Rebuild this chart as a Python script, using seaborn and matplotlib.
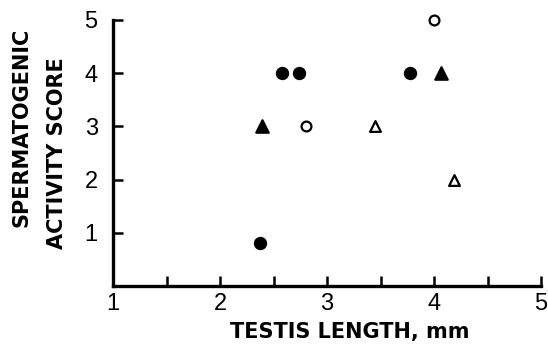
import matplotlib
matplotlib.use("Agg")
import matplotlib.pyplot as plt
import seaborn as sns
import pandas as pd
from matplotlib.ticker import FixedLocator

sns.set_theme(style="ticks")
plt.rcParams['font.family'] = ['Liberation Sans', 'DejaVu Sans']

# Data
filled_circle_x = [2.37, 2.58, 2.74, 3.78]
filled_circle_y = [0.8, 4.0, 4.0, 4.0]
open_circle_x = [2.80, 4.00]
open_circle_y = [3.0, 5.0]
filled_tri_x = [2.39, 4.07]
filled_tri_y = [3.0, 4.0]
open_tri_x = [3.45, 4.19]
open_tri_y = [3.0, 2.0]

x_major = [1, 2, 3, 4, 5]
x_minor = [1.5, 2.5, 3.5, 4.5]
y_ticks = [1, 2, 3, 4, 5]

xlabel = "TESTIS LENGTH, mm"
ylabel_1 = "SPERMATOGENIC"
ylabel_2 = "ACTIVITY SCORE"

fig = plt.figure(figsize=(5.48, 3.49), dpi=100)
ax = fig.add_axes([113/548, 1-286/349, (541-113)/548, (286-20)/349])

groups = [
    (filled_circle_x, filled_circle_y, 'o', 'black', 64),
    (open_circle_x, open_circle_y, 'o', 'white', 50),
    (filled_tri_x, filled_tri_y, '^', 'black', 80),
    (open_tri_x, open_tri_y, '^', 'white', 60),
]
for xs, ys, m, fc, s in groups:
    df = pd.DataFrame({'x': xs, 'y': ys})
    sns.scatterplot(data=df, x='x', y='y', marker=m, s=s, color=fc,
                    edgecolor='black', linewidth=1.6, ax=ax, zorder=3,
                    clip_on=False)

ax.set_xlim(1, 5)
ax.set_ylim(0, 5)
sns.despine(ax=ax)
for sp in ['left', 'bottom']:
    ax.spines[sp].set_linewidth(2.4)
    ax.spines[sp].set_color('black')

ax.xaxis.set_major_locator(FixedLocator(x_major))
ax.xaxis.set_minor_locator(FixedLocator(x_minor))
ax.yaxis.set_major_locator(FixedLocator(y_ticks))
ax.tick_params(axis='both', which='both', direction='in', length=7, width=1.8,
               color='black')
ax.tick_params(axis='both', which='major', labelsize=17, labelcolor='black')
ax.tick_params(axis='y', which='major', pad=11)
ax.tick_params(axis='x', which='major', pad=5)

ax.set_xlabel("")
ax.set_ylabel("")
lab_font = dict(fontsize=15, fontweight='bold', color='black',
                family=['DejaVu Sans'])
fig.text(350/548, 1-332/349, xlabel, ha='center', va='center', **lab_font)
fig.text(22/548, 1-127/349, ylabel_1, ha='center', va='center', rotation=90,
         **lab_font)
fig.text(57/548, 1-153/349, ylabel_2, ha='center', va='center', rotation=90,
         **lab_font)

fig.savefig("out.png", dpi=100, facecolor='white')
